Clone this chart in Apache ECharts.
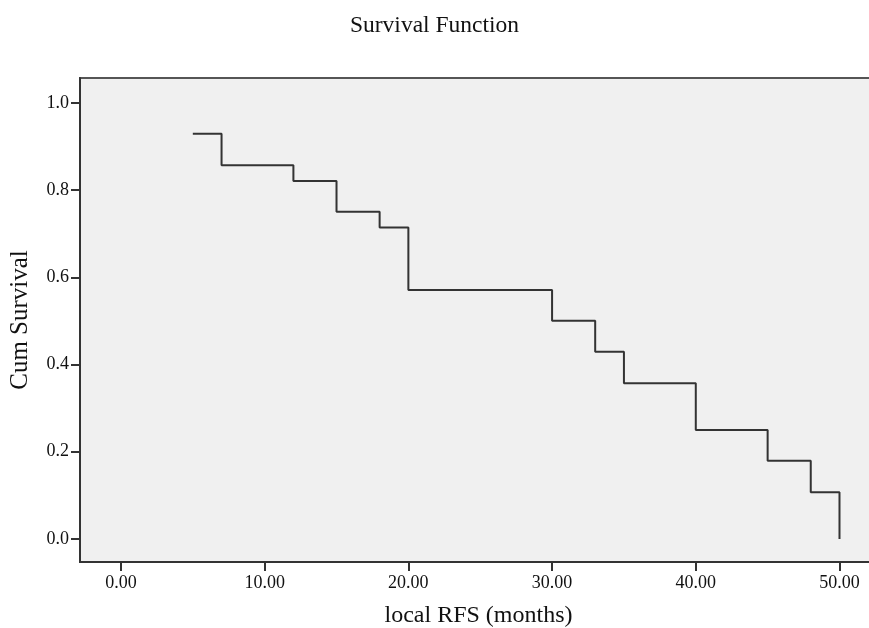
<!DOCTYPE html>
<html>
<head>
<meta charset="utf-8">
<script src="https://cdn.jsdelivr.net/npm/echarts@6/dist/echarts.min.js"></script>
<style>html,body{margin:0;padding:0;background:#fff}#c{width:869px;height:628px}</style>
</head>
<body>
<div id="c"></div>
<script>
const times = [5, 7, 12, 15, 18, 20, 30, 33, 35, 40, 45, 48, 50];
const survival = [0.929, 0.857, 0.821, 0.750, 0.714, 0.571, 0.500, 0.429, 0.357, 0.250, 0.179, 0.107, 0.000];
const xTicks = [0, 10, 20, 30, 40, 50];
const yTicks = [0, 0.2, 0.4, 0.6, 0.8, 1.0];

const font = 'Liberation Serif';
const chart = echarts.init(document.getElementById('c'));
chart.setOption({
  animation: false,
  backgroundColor: '#fff',
  title: {
    text: 'Survival Function', left: 'center', top: 9,
    textStyle: {fontFamily: font, fontSize: 23.5, fontWeight: 'normal', color: '#111'}
  },
  grid: {
    left: 80, top: 78, right: -8, bottom: 66,
    outerBoundsMode: 'none', containLabel: false,
    show: true, backgroundColor: '#f0f0f0', borderColor: '#555', borderWidth: 2
  },
  xAxis: {
    type: 'value', min: -2.85, max: 52.61,
    name: 'local RFS (months)', nameLocation: 'middle', nameGap: 42,
    nameTextStyle: {fontFamily: font, fontSize: 24, color: '#111'},
    axisLine: {show: true, onZero: false, lineStyle: {color: '#333', width: 2}},
    axisTick: {show: true, length: 9, inside: false, customValues: xTicks, lineStyle: {color: '#333', width: 2}},
    axisLabel: {customValues: xTicks, fontFamily: font, fontSize: 18, color: '#111', margin: 12,
      formatter: v => v.toFixed(2)},
    splitLine: {show: false}
  },
  yAxis: {
    type: 'value', min: -0.053, max: 1.057,
    name: 'Cum Survival', nameLocation: 'middle', nameGap: 47, nameRotate: 90,
    nameTextStyle: {fontFamily: font, fontSize: 25, color: '#111'},
    axisLine: {show: true, onZero: false, lineStyle: {color: '#333', width: 2}},
    axisTick: {show: true, length: 9, inside: false, customValues: yTicks, lineStyle: {color: '#333', width: 2}},
    axisLabel: {customValues: yTicks, fontFamily: font, fontSize: 18, color: '#111', margin: 11,
      formatter: v => v.toFixed(1)},
    splitLine: {show: false}
  },
  series: [{
    type: 'line', step: 'end', symbol: 'none',
    data: times.map((t, i) => [t, survival[i]]),
    lineStyle: {color: '#333', width: 2}
  }]
});
</script>
</body>
</html>
